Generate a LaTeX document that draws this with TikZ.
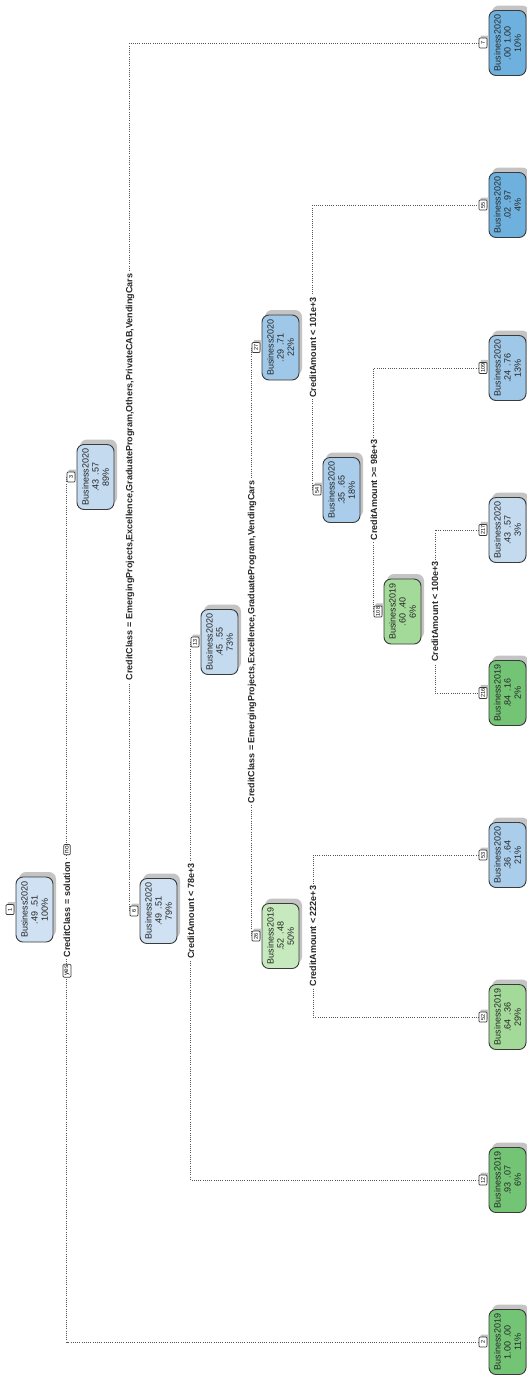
\documentclass[tikz,border=0pt]{standalone}
\usepackage{fontspec}
\setmainfont{Liberation Sans}
\usetikzlibrary{calc}

% fill shades: blue = Business2020, green = Business2019
\definecolor{buPale}{HTML}{CFE1F2}
\definecolor{buLight}{HTML}{C3DAEF}
\definecolor{buMid}{HTML}{A9CDEA}
\definecolor{buMidB}{HTML}{9FC8E8}
\definecolor{buDeep}{HTML}{6FB1DE}
\definecolor{gnPale}{HTML}{C6E9BD}
\definecolor{gnMid}{HTML}{A4DA99}
\definecolor{gnDeep}{HTML}{74C476}
\definecolor{boxline}{HTML}{3A3A3A}
\definecolor{connline}{HTML}{555555}
\definecolor{shadowgray}{HTML}{C4C4C4}

\tikzset{
  x=1pt, y=-1pt,
  box/.style={draw=boxline, line width=0.9pt, rounded corners=7pt, rotate=90,
    minimum width=65pt, minimum height=37pt, inner sep=1pt, align=center,
    font=\fontsize{9}{10.2}\selectfont, text=black!85},
  boxshadow/.style={fill=shadowgray, rounded corners=7pt, rotate=90,
    minimum width=65pt, minimum height=37pt, inner sep=0pt},
  numbox/.style={draw=boxline, line width=0.7pt, fill=white, rounded corners=1pt,
    rotate=90, minimum width=10pt, minimum height=8pt, inner sep=1pt,
    font=\fontsize{5.5}{6}\selectfont},
  numshadow/.style={fill=shadowgray, rounded corners=1pt, rotate=90,
    minimum width=10pt, minimum height=8pt, inner sep=1pt,
    font=\fontsize{5.5}{6}\selectfont},
  conn/.style={draw=connline, line width=0.8pt, dash pattern=on 0.9pt off 1.3pt},
  splitlabel/.style={fill=white, rotate=90, inner sep=1.5pt,
    font=\bfseries\fontsize{9}{10}\selectfont, text=black!85},
  yesno/.style={draw=boxline, fill=white, rotate=90, inner sep=1.5pt,
    line width=0.7pt, rounded corners=1pt, font=\fontsize{6.5}{7}\selectfont},
}

% #1 name, #2 branch x, #3 y, #4 fill, #5 class, #6 probabilities, #7 share, #8 node number
\newcommand\treebox[8]{%
  \node[boxshadow] (#1sh) at ({#2+31.5},{#3-5}) {};
  \node[box, fill=#4] (#1) at ({#2+28.5},{#3}) {#5\\#6\\#7};
  \node[numshadow] (#1numsh) at ({#2+5.5},{#3-2.5}) {\phantom{#8}};
  \node[numbox] (#1num) at ({#2+4},{#3}) {#8};
}

\begin{document}
\begin{tikzpicture}
\useasboundingbox[fill=white] (0,0) rectangle (527,1376);

% branch points of splits whose children are both leaves
\coordinate (b26) at (313,936);
\coordinate (b108) at (435,611.5);

% internal nodes
\treebox{n1}{6}{909.5}{buPale}{Business2020}{.49\hspace{4pt}.51}{100\%}{1}
\treebox{n3}{67}{477}{buLight}{Business2020}{.43\hspace{4pt}.57}{89\%}{3}
\treebox{n6}{130}{911}{buPale}{Business2020}{.49\hspace{4pt}.51}{79\%}{6}
\treebox{n13}{191}{642}{buLight}{Business2020}{.45\hspace{4pt}.55}{73\%}{13}
\treebox{n26}{252}{936}{gnPale}{Business2019}{.52\hspace{4pt}.48}{50\%}{26}
\treebox{n27}{252}{347.5}{buMidB}{Business2020}{.29\hspace{4pt}.71}{22\%}{27}
\treebox{n54}{313}{490}{buMid}{Business2020}{.35\hspace{4pt}.65}{18\%}{54}
\treebox{n108}{374}{611.5}{gnMid}{Business2019}{.60\hspace{4pt}.40}{6\%}{108}

% leaves
\treebox{l7}{479}{43}{buDeep}{Business2020}{.00\hspace{4pt}1.00}{10\%}{7}
\treebox{l55}{479}{205}{buDeep}{Business2020}{.02\hspace{4pt}.97}{4\%}{55}
\treebox{l109}{479}{368}{buMidB}{Business2020}{.24\hspace{4pt}.76}{13\%}{109}
\treebox{l217}{479}{530}{buLight}{Business2020}{.43\hspace{4pt}.57}{3\%}{217}
\treebox{l216}{479}{693}{gnDeep}{Business2019}{.84\hspace{4pt}.16}{2\%}{216}
\treebox{l53}{479}{855}{buMid}{Business2020}{.36\hspace{4pt}.64}{21\%}{53}
\treebox{l52}{479}{1017}{gnMid}{Business2019}{.64\hspace{4pt}.36}{29\%}{52}
\treebox{l12}{479}{1180}{gnDeep}{Business2019}{.93\hspace{4pt}.07}{6\%}{12}
\treebox{l2}{479}{1342}{gnDeep}{Business2019}{1.00\hspace{4pt}.00}{11\%}{2}

% branches
\draw[conn] (n3num.north) |- (l2num.north);
\draw[conn] (n6num.north) |- (l7num.north);
\draw[conn] (n13num.north) |- (l12num.north);
\draw[conn] (n27num.north) -- (n26num.north);
\draw[conn] (l53num.north) -| (b26) |- (l52num.north);
\draw[conn] (n54num.north) |- (l55num.north);
\draw[conn] (n108num.north) |- (l109num.north);
\draw[conn] (l217num.north) -| (b108) |- (l216num.north);

% split labels
\node[splitlabel] (s1) at (67,909.5) {CreditClass = solution};
\node[yesno, anchor=east] (yes) at ($(s1.west)+(0,5)$) {yes};
\node[yesno, anchor=west] (no) at ($(s1.east)+(0,-5)$) {no};
\node[splitlabel] (s3) at (130,477) {CreditClass = EmergingProjects,Excellence,GraduateProgram,Others,PrivateCAB,VendingCars};
\node[splitlabel] (s6) at (191,911) {CreditAmount < 78e+3};
\node[splitlabel] (s13) at (252,642) {CreditClass = EmergingProjects,Excellence,GraduateProgram,VendingCars};
\node[splitlabel] (s26) at (313,936) {CreditAmount < 222e+3};
\node[splitlabel] (s27) at (313,347.5) {CreditAmount < 101e+3};
\node[splitlabel] (s54) at (374,490) {CreditAmount >= 98e+3};
\node[splitlabel] (s108) at (435,611.5) {CreditAmount < 100e+3};
\end{tikzpicture}
\end{document}
